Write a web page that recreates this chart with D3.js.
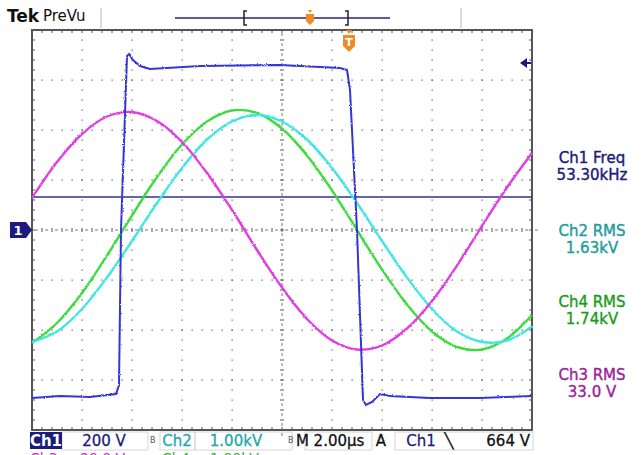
<!DOCTYPE html>
<html>
<head>
<meta charset="utf-8">
<script src="https://cdn.jsdelivr.net/npm/d3@7"></script>
<style>
  body { margin: 0; background: #fff; }
  svg { display: block; }
  text { font-family: "DejaVu Sans", Verdana, sans-serif; }
</style>
</head>
<body>
<div id="scope"></div>
<script>
// time axis in divisions (2.00 us/div), values in divisions
const timeDiv = [0, 0.5, 1, 1.5, 2, 2.5, 3, 3.5, 4, 4.5, 5, 5.5, 6, 6.5, 7, 7.5, 8, 8.5, 9, 9.5, 10];

// Ch3 (magenta)
const ch3 = [0.64, 1.36, 1.92, 2.27, 2.36, 2.18, 1.76, 1.14, 0.40, -0.40, -1.15, -1.78, -2.21, -2.39, -2.31, -1.97, -1.42, -0.71, 0.08, 0.85, 1.54];
// Ch4 (green)
const ch4 = [-2.26, -1.86, -1.26, -0.51, 0.29, 1.06, 1.71, 2.17, 2.39, 2.34, 2.03, 1.49, 0.79, 0.00, -0.79, -1.49, -2.03, -2.34, -2.39, -2.17, -1.70];
// Ch2 (cyan)
const ch2 = [-2.24, -2.03, -1.58, -0.95, -0.22, 0.54, 1.24, 1.81, 2.17, 2.30, 2.17, 1.81, 1.24, 0.54, -0.22, -0.95, -1.58, -2.03, -2.24, -2.21, -1.93];

// Ch1 (blue square wave), points at the edges
const ch1Time = [0, 0.56, 1.16, 1.68, 1.74, 1.78, 1.90, 1.94, 2.02, 2.16, 2.36, 3.36, 4.96, 6.16, 6.30, 6.36, 6.50, 6.62, 6.68, 6.80, 6.96, 7.16, 7.96, 8.96, 10];
const ch1 = [-3.36, -3.32, -3.34, -3.28, -3.10, 0, 3.48, 3.52, 3.40, 3.28, 3.22, 3.28, 3.30, 3.24, 3.20, 2.80, 0, -3.40, -3.50, -3.44, -3.28, -3.32, -3.36, -3.36, -3.32];

const levelLine = 0.66;   // horizontal marker line
const trigTime = 6.34;    // orange T position

const readouts = [
  { name: "Ch1 Freq", value: "53.30kHz", color: "#1c1c78" },
  { name: "Ch2 RMS", value: "1.63kV", color: "#1f9c9c" },
  { name: "Ch4 RMS", value: "1.74kV", color: "#1f9a1f" },
  { name: "Ch3 RMS", value: "33.0 V", color: "#9c1f9c" }
];

const W = 644, H = 455;
const svg = d3.select("#scope").append("svg")
    .attr("width", W)
    .attr("height", H);

// slight jitter so the traces look like a scope capture
const defs = svg.append("defs");
const flt = defs.append("filter").attr("id", "noisy")
    .attr("x", "-5%").attr("y", "-5%").attr("width", "110%").attr("height", "110%");
flt.append("feTurbulence").attr("type", "fractalNoise")
    .attr("baseFrequency", 0.9).attr("numOctaves", 1).attr("seed", 3).attr("result", "n");
flt.append("feDisplacementMap").attr("in", "SourceGraphic").attr("in2", "n")
    .attr("scale", 2.5).attr("xChannelSelector", "R").attr("yChannelSelector", "G");

const x = d3.scaleLinear().domain([0, 10]).range([32, 532]);
const y = d3.scaleLinear().domain([-4, 4]).range([430, 30]);

// graticule dots
const g = svg.append("g");
const minor = d3.range(0, 10.001, 0.2);
const minorY = d3.range(-4, 4.001, 0.2);
for (let i = 1; i < 10; i++) {
    if (i === 5) continue;
    g.selectAll(null).data(minorY).enter().append("rect")
        .attr("x", x(i) - 0.5).attr("y", d => y(d) - 0.5)
        .attr("width", 1.2).attr("height", 1.2).attr("fill", "#555");
}
for (let j = -3; j <= 3; j++) {
    if (j === 0) continue;
    g.selectAll(null).data(minor).enter().append("rect")
        .attr("x", d => x(d) - 0.5).attr("y", y(j) - 0.5)
        .attr("width", 1.2).attr("height", 1.2).attr("fill", "#555");
}
// centre lines with ticks
g.selectAll(null).data(minor).enter().append("line")
    .attr("x1", d => x(d)).attr("x2", d => x(d))
    .attr("y1", y(0) - 2).attr("y2", y(0) + 2)
    .attr("stroke", "#555");
g.selectAll(null).data(minor).enter().append("line")
    .attr("x1", d => x(d) + 3).attr("x2", d => x(d) + 6)
    .attr("y1", y(0)).attr("y2", y(0))
    .attr("stroke", "#777");
g.selectAll(null).data(minorY).enter().append("line")
    .attr("x1", x(5) - 2).attr("x2", x(5) + 2)
    .attr("y1", d => y(d)).attr("y2", d => y(d))
    .attr("stroke", "#555");
g.selectAll(null).data(minorY).enter().append("line")
    .attr("x1", x(5)).attr("x2", x(5))
    .attr("y1", d => y(d) + 3).attr("y2", d => y(d) + 6)
    .attr("stroke", "#777");
// edge ticks
g.selectAll(null).data(minor).enter().append("line")
    .attr("x1", d => x(d)).attr("x2", d => x(d))
    .attr("y1", y(4)).attr("y2", y(4) + 3).attr("stroke", "#555");
g.selectAll(null).data(minor).enter().append("line")
    .attr("x1", d => x(d)).attr("x2", d => x(d))
    .attr("y1", y(-4)).attr("y2", y(-4) - 3).attr("stroke", "#555");
g.selectAll(null).data(minorY).enter().append("line")
    .attr("x1", x(0)).attr("x2", x(0) + 3)
    .attr("y1", d => y(d)).attr("y2", d => y(d)).attr("stroke", "#555");
g.selectAll(null).data(minorY).enter().append("line")
    .attr("x1", x(10)).attr("x2", x(10) - 3)
    .attr("y1", d => y(d)).attr("y2", d => y(d)).attr("stroke", "#555");

g.append("rect")
    .attr("x", x(0)).attr("y", y(4))
    .attr("width", x(10) - x(0)).attr("height", y(-4) - y(4))
    .attr("fill", "none").attr("stroke", "#555").attr("stroke-width", 2);

// level marker line
svg.append("line")
    .attr("x1", x(0)).attr("x2", x(10))
    .attr("y1", y(levelLine)).attr("y2", y(levelLine))
    .attr("stroke", "#2e3390").attr("stroke-width", 1.5);

// traces
const line = d3.line()
    .x((d, i) => x(timeDiv[i]))
    .y(d => y(d))
    .curve(d3.curveCatmullRom);

const traces = svg.append("g").attr("filter", "url(#noisy)");
traces.append("path").attr("d", line(ch4))
    .attr("fill", "none").attr("stroke", "#3ddc3d").attr("stroke-width", 2.4);
traces.append("path").attr("d", line(ch2))
    .attr("fill", "none").attr("stroke", "#3fe6e6").attr("stroke-width", 2.4);
traces.append("path").attr("d", line(ch3))
    .attr("fill", "none").attr("stroke", "#e23de2").attr("stroke-width", 2.4);

const sq = d3.line()
    .x((d, i) => x(ch1Time[i]))
    .y(d => y(d));
traces.append("path").attr("d", sq(ch1))
    .attr("fill", "none").attr("stroke", "#3535d6").attr("stroke-width", 2);

// Ch1 ground marker
const gm = svg.append("g").attr("transform", `translate(10,${y(0)})`);
gm.append("path").attr("d", "M0,-8 H16 L22,0 L16,8 H0 Z").attr("fill", "#1b1b80");
gm.append("text").attr("x", 8).attr("y", 5).attr("text-anchor", "middle")
    .attr("fill", "#fff").attr("font-size", 13).attr("font-weight", "bold").text("1");

// trigger level arrow on right
svg.append("path")
    .attr("d", `M${x(10) - 12},${y(3.34)} l7,-5 v10 z`)
    .attr("fill", "#1b1b80");
svg.append("line")
    .attr("x1", x(10) - 6).attr("x2", x(10) - 1)
    .attr("y1", y(3.34)).attr("y2", y(3.34))
    .attr("stroke", "#1b1b80").attr("stroke-width", 2);

// orange T marker
const tx = x(trigTime);
const tg = svg.append("g").attr("transform", `translate(${tx},${y(4)})`);
tg.append("path").attr("d", "M-3,0 H3 L0,4 Z").attr("fill", "#f08a24");
tg.append("path").attr("d", "M-6,5 H6 V16 L0,22 L-6,16 Z").attr("fill", "#f08a24");
tg.append("text").attr("x", 0).attr("y", 16).attr("text-anchor", "middle")
    .attr("fill", "#fff").attr("font-size", 11).attr("font-weight", "bold").text("T");

// header
svg.append("text").attr("x", 7).attr("y", 22)
    .attr("font-size", 17).attr("font-weight", "bold").attr("fill", "#111").text("Tek");
svg.append("text").attr("x", 43).attr("y", 21)
    .attr("font-size", 15).attr("fill", "#111").text("PreVu");
svg.append("line").attr("x1", 101).attr("x2", 101).attr("y1", 8).attr("y2", 28)
    .attr("stroke", "#bbb");
svg.append("line").attr("x1", 461).attr("x2", 461).attr("y1", 8).attr("y2", 28)
    .attr("stroke", "#bbb");
svg.append("line").attr("x1", 175).attr("x2", 390).attr("y1", 18).attr("y2", 18)
    .attr("stroke", "#23238a").attr("stroke-width", 1.5);
svg.append("path").attr("d", "M247,11 h-3 v14 h3").attr("fill", "none")
    .attr("stroke", "#222").attr("stroke-width", 1.5);
svg.append("path").attr("d", "M345,11 h3 v14 h-3").attr("fill", "none")
    .attr("stroke", "#222").attr("stroke-width", 1.5);
const sm = svg.append("g").attr("transform", "translate(310,10)");
sm.append("path").attr("d", "M-2,0 H2 L0,3 Z").attr("fill", "#f08a24");
sm.append("path").attr("d", "M-4,4 H4 V11 L0,15 L-4,11 Z").attr("fill", "#f08a24");

// readouts
readouts.forEach((r, i) => {
    const cy = [167, 240, 311, 384][i];
    svg.append("text").attr("x", 592).attr("y", cy - 4)
        .attr("text-anchor", "middle").attr("font-size", 15)
        .attr("fill", r.color).attr("stroke", r.color).attr("stroke-width", 0.4)
        .text(r.name);
    svg.append("text").attr("x", 592).attr("y", cy + 13)
        .attr("text-anchor", "middle").attr("font-size", 15)
        .attr("fill", r.color).attr("stroke", r.color).attr("stroke-width", 0.4)
        .text(r.value);
});

// bottom status bar
const sb = svg.append("g");
[[62, 148], [160, 195], [195, 292], [305, 372], [395, 533]].forEach(b => {
    sb.append("rect").attr("x", b[0]).attr("y", 432).attr("width", b[1] - b[0]).attr("height", 18)
        .attr("fill", "none").attr("stroke", "#d6d6d6");
});
sb.append("rect").attr("x", 30).attr("y", 432).attr("width", 32).attr("height", 17).attr("fill", "#1b1b80");
const items = [
    { t: "Ch1", x: 46, c: "#fff", a: "middle", w: "bold" },
    { t: "200 V", x: 104, c: "#1c1c78", a: "middle" },
    { t: "Ch2", x: 177, c: "#1fa8a8", a: "middle" },
    { t: "1.00kV", x: 236, c: "#1fa8a8", a: "middle" },
    { t: "M", x: 296, c: "#111", a: "start" },
    { t: "2.00\u00b5s", x: 339, c: "#111", a: "middle" },
    { t: "A", x: 381, c: "#111", a: "middle" },
    { t: "Ch1", x: 421, c: "#1c1c78", a: "middle" },
    { t: "\u2572", x: 449, c: "#111", a: "middle" },
    { t: "664 V", x: 530, c: "#111", a: "end" }
];
items.forEach(d => {
    sb.append("text").attr("x", d.x).attr("y", 446)
        .attr("text-anchor", d.a).attr("font-size", 15)
        .attr("font-weight", d.w || "normal")
        .attr("fill", d.c).attr("stroke", d.w ? "none" : d.c).attr("stroke-width", 0.3)
        .text(d.t);
});
sb.append("text").attr("x", 150).attr("y", 443).attr("font-size", 8).attr("fill", "#555").text("B");
sb.append("text").attr("x", 288).attr("y", 443).attr("font-size", 8).attr("fill", "#555").text("B");
// partially visible second row
sb.append("text").attr("x", 30).attr("y", 463).attr("font-size", 14).attr("fill", "#c030c0").text("Ch3");
sb.append("text").attr("x", 80).attr("y", 463).attr("font-size", 14).attr("fill", "#c030c0").text("20.0 V");
sb.append("text").attr("x", 162).attr("y", 463).attr("font-size", 14).attr("fill", "#30b030").text("Ch4");
sb.append("text").attr("x", 210).attr("y", 463).attr("font-size", 14).attr("fill", "#30b030").text("1.00kV");
</script>
</body>
</html>
